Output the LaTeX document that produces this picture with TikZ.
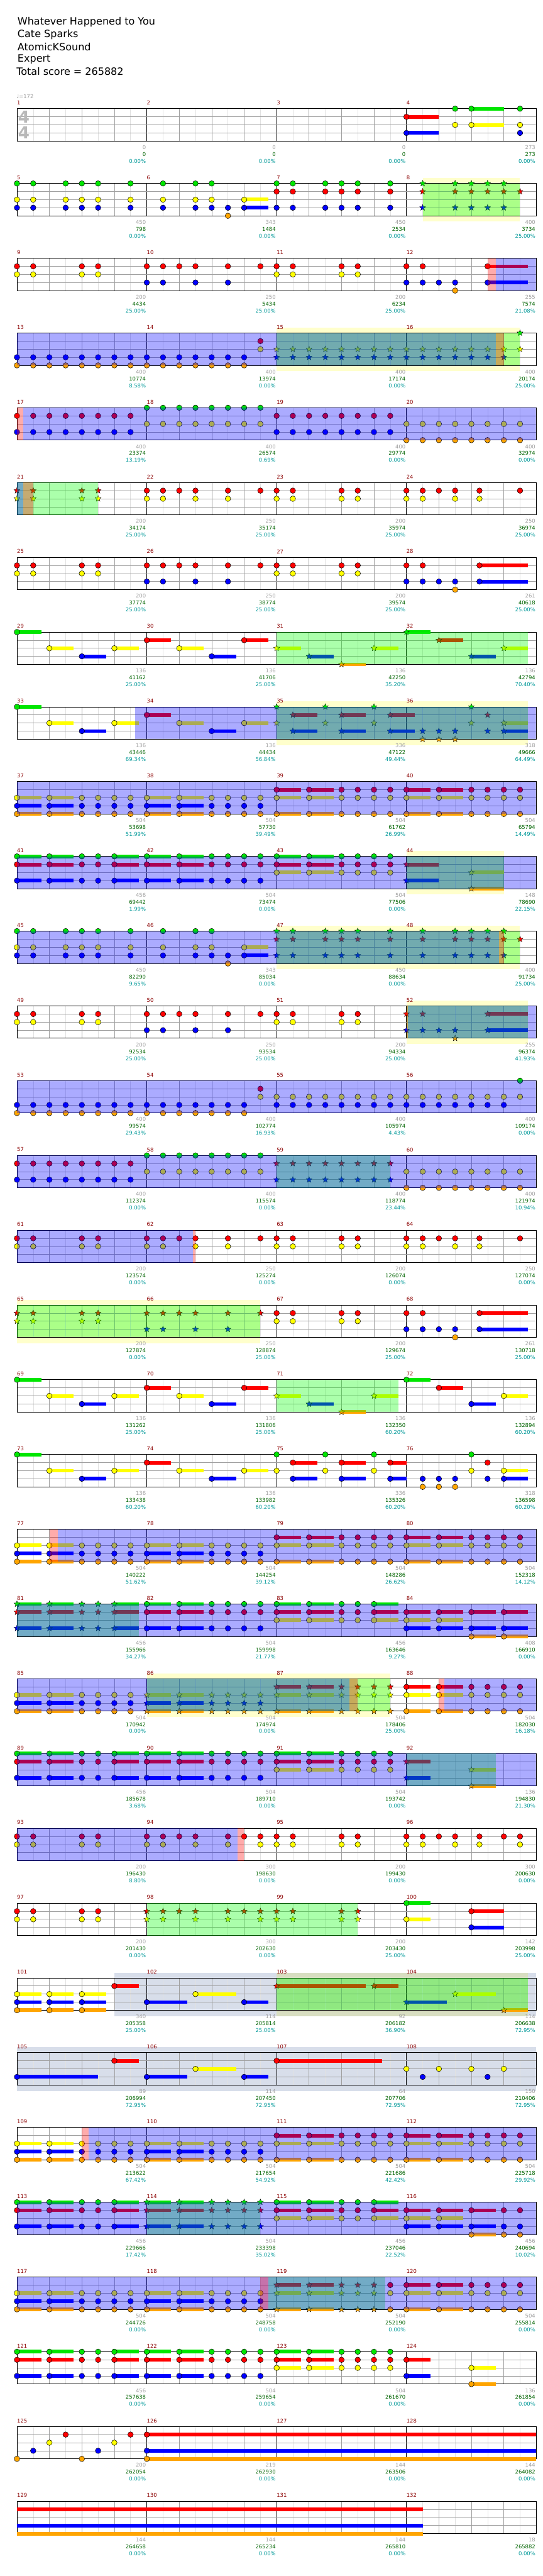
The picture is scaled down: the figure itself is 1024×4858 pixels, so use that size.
\documentclass[tikz,border=0pt]{standalone}
\usepackage{fontspec}
\setmainfont{DejaVu Sans}
\usetikzlibrary{shapes.geometric}
\definecolor{lane0}{RGB}{0,230,0}
\definecolor{lane1}{RGB}{255,0,0}
\definecolor{lane2}{RGB}{255,255,0}
\definecolor{lane3}{RGB}{0,0,255}
\definecolor{lane4}{RGB}{255,165,0}
\definecolor{ovg}{RGB}{0,255,0}
\definecolor{ovb}{RGB}{0,0,255}
\definecolor{ovr}{RGB}{255,0,0}
\definecolor{bandy}{RGB}{255,255,204}
\definecolor{bandg}{RGB}{60,90,150}
\definecolor{mred}{RGB}{139,0,0}
\definecolor{sgray}{RGB}{160,160,160}
\definecolor{sgreen}{RGB}{0,100,0}
\definecolor{steal}{RGB}{0,153,153}
\definecolor{gridq}{RGB}{160,160,160}
\definecolor{gride}{RGB}{225,225,225}
\newcommand\xx[1]{32+#1*30.625}
\newcommand\nc[2]{\foreach \p in {#2}{\draw[fill=lane#1,line width=.6pt] ({\xx{\p}},{#1*15.25}) circle[radius=5.2pt];}}
\newcommand\ns[2]{\foreach \ua/\ub in {#2}{\fill[lane#1] ({\xx{\ua}},{#1*15.25-3.5}) rectangle ({\xx{\ub}},{#1*15.25+3.5});\draw[fill=lane#1,line width=.6pt] ({\xx{\ua}},{#1*15.25}) circle[radius=5.2pt];}}
\newcommand\nt[2]{\foreach \p in {#2}{\node[nstar,fill=lane#1] at ({\xx{\p}},{#1*15.25}) {};}}
\newcommand\nts[2]{\foreach \ua/\ub in {#2}{\fill[lane#1] ({\xx{\ua}},{#1*15.25-3.5}) rectangle ({\xx{\ub}},{#1*15.25+3.5});\node[nstar,fill=lane#1] at ({\xx{\ua}},{#1*15.25}) {};}}
\newcommand\nbar[3]{\fill[lane#1] ({\xx{#2}},{#1*15.25-3.5}) rectangle ({\xx{#3}},{#1*15.25+3.5});}
\newcommand\ov[3]{\fill[#1,fill opacity=.33] ({\xx{#2}},0) rectangle ({\xx{#3}},61);}
\newcommand\yb[2]{\fill[bandy] ({\xx{#1}},-10) rectangle ({\xx{#2}},72);}
\newcommand\gb[2]{\fill[bandg,fill opacity=.2] ({\xx{#1}},-10) rectangle ({\xx{#2}},72);}
\newcommand\sco[4]{\node[stx,text=sgray] at ({32+#1*245-1.5},73) {#2};\node[stx,text=sgreen] at ({32+#1*245-1.5},86) {#3};\node[stx,text=steal] at ({32+#1*245-1.5},99) {#4\%};}
\newcommand\grid[1]{%
  \foreach \i in {1,3,...,31} \draw[gride,line width=.6pt] ({\xx{\i}},0) -- ++(0,61);
  \foreach \i in {2,4,6,10,12,14,18,20,22,26,28,30} \draw[gridq,line width=.7pt] ({\xx{\i}},0) -- ++(0,61);
  \foreach \i in {8,16,24} \draw[black,line width=.7pt] ({\xx{\i}},0) -- ++(0,61);
  \foreach \j in {1,2,3} \draw[gridq,line width=.8pt] (32,{\j*15.25}) -- (1012,{\j*15.25});
  \draw[black,line width=1pt] (32,0) rectangle (1012,61);
  \foreach \k in {0,1,2,3} {\pgfmathtruncatemacro\mn{4*(#1-1)+\k+1}\node[mnum] at ({32+\k*245},-11) {\mn};}}
\newcommand\patA{%
  \ns2{0/1.5,2/3.5,8/9.5,10/11.5,16/17.5,18/19.5,24/25.5,26/27.5}\nc2{4,5,6,7,12,13,14,15,20,21,22,23,28,29,30,31}
  \ns4{0/1.5,2/3.5,8/9.5,10/11.5,16/17.5,18/19.5,24/25.5,26/27.5}\nc4{4,5,6,7,12,13,14,15,20,21,22,23,28,29,30,31}
  \ns3{0/1.5,2/3.5,8/9.5,10/11.5}\nc3{4,5,6,7,12,13,14,15}
  \ns1{16/17.5,18/19.5,24/25.5,26/27.5}\nc1{20,21,22,23,28,29,30,31}}
\begin{document}
\begin{tikzpicture}[x=1pt,y=-1pt,
  nstar/.style={star,star points=5,star point ratio=2.3,minimum size=12pt,inner sep=0pt,draw=black,line width=.4pt},
  stx/.style={anchor=east,inner sep=0pt,font=\fontsize{10}{12}\selectfont},
  mnum/.style={anchor=west,inner sep=0pt,text=mred,font=\fontsize{10}{12}\selectfont},
  ttl/.style={anchor=west,inner sep=0pt,font=\fontsize{19}{22}\selectfont}]
\useasboundingbox (0,0) rectangle (1024,4858);
\fill[white] (0,0) rectangle (1024,4858);
\node[ttl] (t1) at (33,41.7) {Whatever Happened to You};
\node[ttl] (t2) at (33,65) {Cate Sparks};
\node[ttl] (t3) at (33,88.3) {AtomicKSound};
\node[ttl] (t4) at (33,111.7) {Expert};
\node[ttl] (t5) at (31,134.3) {Total score = 265882};
% row 1
\begin{scope}[shift={(0,205)}]
\grid{1}
\node[anchor=west,inner sep=0pt,text=sgray,font=\fontsize{10}{12}\selectfont] (tempo) at (31,-23) {♩=172};
\node[text=gray!55,font=\fontsize{31}{31}\selectfont\bfseries,inner sep=0pt] (ts1) at (45,16) {4};
\node[text=gray!55,font=\fontsize{31}{31}\selectfont\bfseries,inner sep=0pt] (ts2) at (45,45) {4};
\ns0{28/30}\nc0{27,31}\ns1{24/26}\ns2{28/30}\nc2{27,31}\ns3{24/26}\nc3{31}
\sco1{0}{0}{0.00}\sco2{0}{0}{0.00}\sco3{0}{0}{0.00}\sco4{273}{273}{0.00}
\end{scope}
% row 2
\begin{scope}[shift={(0,346)}]
\yb{25}{31}\grid{2}
\nc0{0,1,3,4,5,7,9,11,12,16,17,19,20,21,23}\nt0{25,27,28,29,30}
\nc1{16,17,19,20,21,23}\nt1{25,27,28,29,30,31}
\nc2{0,1,3,4,5,7,9,11,12}\ns2{14/15.5}
\nc3{0,1,3,4,5,7,9,11,12,13,16,17,19,20,21,23}\ns3{14/15.5}\nt3{25,27,28,29,30}
\nc4{13}
\ov{ovg}{25}{31}
\sco1{450}{798}{0.00}\sco2{343}{1484}{0.00}\sco3{450}{2534}{0.00}\sco4{400}{3734}{25.00}
\end{scope}
% row 3
\begin{scope}[shift={(0,487)}]
\grid{3}
\nc1{0,1,4,5,8,9,10,11,13,15,16,17,20,21,24,25}\ns1{29/31.5}
\nc2{0,1,4,5,16,17,20,21}
\nc3{8,9,11,13,24,25,26,27}\ns3{29/31.5}
\nc4{27}
\ov{ovb}{29.5}{32}\ov{ovr}{29}{29.5}
\sco1{200}{4434}{25.00}\sco2{250}{5434}{25.00}\sco3{200}{6234}{25.00}\sco4{255}{7574}{21.08}
\end{scope}
% row 4
\begin{scope}[shift={(0,628)}]
\yb{16}{31}\grid{4}
\nc3{0,...,14}\nc4{0,...,14}\nc1{15}\nc2{15}
\nt2{16,...,31}\nt3{16,...,30}\nt0{31}
\ov{ovg}{16}{31}\ov{ovb}{0}{29.5}\ov{ovr}{29.5}{30}
\sco1{400}{10774}{8.58}\sco2{400}{13974}{0.00}\sco3{400}{17174}{0.00}\sco4{400}{20174}{25.00}
\end{scope}
% row 5
\begin{scope}[shift={(0,769)}]
\grid{5}
\nc1{0,...,7}\nc1{16,...,23}\nc3{0,...,7}\nc3{16,...,23}\nc0{8,...,15}\nc2{8,...,15}\nc2{24,...,31}\nc4{24,...,31}
\ov{ovb}{0.4}{32}\ov{ovr}{0}{0.4}
\sco1{400}{23374}{13.19}\sco2{400}{26574}{0.69}\sco3{400}{29774}{0.00}\sco4{400}{32974}{0.00}
\end{scope}
% row 6
\begin{scope}[shift={(0,910)}]
\grid{6}
\nt1{0,1,4,5}\nt2{0,1,4,5}
\nc1{8,9,10,11,13,15,16,17,20,21,24,25,26,27,28.5,31}
\nc2{8,9,11,13,16,17,20,21,24,25,27,28.5}
\ov{ovg}{0}{5}\ov{ovb}{0}{0.4}\ov{ovr}{0.4}{1}
\sco1{200}{34174}{25.00}\sco2{250}{35174}{25.00}\sco3{200}{35974}{25.00}\sco4{250}{36974}{25.00}
\end{scope}
% row 7
\begin{scope}[shift={(0,1051)}]
\grid{7}
\nc1{0,1,4,5,8,9,10,11,13,15,16,17,20,21,24,25}\ns1{28.5/31.5}
\nc2{0,1,4,5,16,17,20,21}
\nc3{8,9,11,13,24,25,26,27}\ns3{28.5/31.5}
\nc4{27}
\sco1{200}{37774}{25.00}\sco2{250}{38774}{25.00}\sco3{200}{39574}{25.00}\sco4{261}{40618}{25.00}
\end{scope}
% row 8
\begin{scope}[shift={(0,1192)}]
\grid{8}
\ns0{0/1.5}\ns2{2/3.5,6/7.5,10/11.5}\ns1{8/9.5,14/15.5}\ns3{4/5.5,12/13.5}
\nts2{16/17.5,22/23.5,30/31.5}\nts3{18/19.5,28/29.5}\nts4{20/21.5}\nts0{24/25.5}\nts1{26/27.5}
\ov{ovg}{16}{31.5}
\sco1{136}{41162}{25.00}\sco2{136}{41706}{25.00}\sco3{136}{42250}{35.20}\sco4{136}{42794}{70.40}
\end{scope}
% row 9
\begin{scope}[shift={(0,1333)}]
\yb{16}{31.5}\grid{9}
\ns0{0/1.5}\ns2{2/3.5,6/7.5,10/11.5,14/15.5}\ns1{8/9.5}\ns3{4/5.5,12/13.5}
\nt0{16,19,22,28}\nt2{16,19,22,28}\nts2{30/31.5}
\nts1{17/18.5,20/21.5,23/24.5}\nt1{29}
\nts3{17/18.5,20/21.5,23/24.5,30/31.5}\nt3{25,26,27,29}
\nt4{25,26,27}
\ov{ovg}{16}{31.5}\ov{ovb}{7.3}{32}
\sco1{136}{43446}{69.34}\sco2{136}{44434}{56.84}\sco3{336}{47122}{49.44}\sco4{318}{49666}{64.49}
\end{scope}
% row 10
\begin{scope}[shift={(0,1474)}]
\grid{10}
\patA
\ov{ovb}{0}{32}
\sco1{504}{53698}{51.99}\sco2{504}{57730}{39.49}\sco3{504}{61762}{26.99}\sco4{504}{65794}{14.49}
\end{scope}
% row 11
\begin{scope}[shift={(0,1615)}]
\yb{24}{30}\grid{11}
\ns0{0/1.5,2/3.5,6/7.5,8/9.5,10/11.5,16/17.5,18/19.5}\nc0{4,5,12,13,14,15,20,21,22,23}
\ns1{0/1.5,2/3.5,6/7.5,8/9.5,10/11.5,16/17.5,18/19.5}\nc1{4,5,12,13,14,15,20,21,22,23}
\ns3{0/1.5,2/3.5,6/7.5,8/9.5,10/11.5}\nc3{4,5,12,13,14,15}
\ns2{16/17.5,18/19.5}\nc2{20,21,22,23}
\nts1{24/26}\nts3{24/26}\nts2{28/30}\nts4{28/30}
\ov{ovg}{24}{30}\ov{ovb}{0}{32}
\sco1{456}{69442}{1.99}\sco2{504}{73474}{0.00}\sco3{504}{77506}{0.00}\sco4{148}{78690}{22.15}
\end{scope}
% row 12
\begin{scope}[shift={(0,1756)}]
\yb{16}{31}\grid{12}
\nc0{0,1,3,4,5,7,9,11,12}\nt0{16,17,19,20,21,23,25,27,28,29,30}
\nt1{16,17,19,20,21,23,25,27,28,29,30,31}
\nc2{0,1,3,4,5,7,9,11,12}\ns2{14/15.5}
\nc3{0,1,3,4,5,7,9,11,12,13}\ns3{14/15.5}\nt3{16,17,19,20,21,23,25,27,28,29,30}
\nc4{13}
\ov{ovg}{16}{31}\ov{ovb}{0}{29.7}\ov{ovr}{29.7}{30}
\sco1{450}{82290}{9.65}\sco2{343}{85034}{0.00}\sco3{450}{88634}{0.00}\sco4{400}{91734}{25.00}
\end{scope}
% row 13
\begin{scope}[shift={(0,1897)}]
\yb{24}{31.5}\grid{13}
\nc1{0,1,4,5,8,9,10,11,13,15,16,17,20,21}\nt1{24,25}\nts1{29/31.5}
\nc2{0,1,4,5,16,17,20,21}
\nc3{8,9,11,13}\nt3{24,25,26,27}\nts3{29/31.5}
\nt4{27}
\ov{ovg}{24}{31.5}\ov{ovb}{24.1}{32}\ov{ovr}{24}{24.1}
\sco1{200}{92534}{25.00}\sco2{250}{93534}{25.00}\sco3{200}{94334}{25.00}\sco4{255}{96374}{41.93}
\end{scope}
% row 14
\begin{scope}[shift={(0,2038)}]
\grid{14}
\nc3{0,...,14}\nc3{16,...,30}\nc4{0,...,14}\nc1{15}\nc2{15,...,31}\nc0{31}
\ov{ovb}{0}{32}
\sco1{400}{99574}{29.43}\sco2{400}{102774}{16.93}\sco3{400}{105974}{4.43}\sco4{400}{109174}{0.00}
\end{scope}
% row 15
\begin{scope}[shift={(0,2179)}]
\grid{15}
\nc1{0,...,7}\nc3{0,...,7}\nc0{8,...,15}\nc2{8,...,15}\nc2{24,...,31}\nt1{16,...,23}\nt3{16,...,23}\nc4{24,...,31}
\ov{ovg}{16}{23}\ov{ovb}{0}{32}
\sco1{400}{112374}{0.00}\sco2{400}{115574}{0.00}\sco3{400}{118774}{23.44}\sco4{400}{121974}{10.94}
\end{scope}
% row 16
\begin{scope}[shift={(0,2320)}]
\grid{16}
\nc1{0,1,4,5,8,9,10,11,13,15,16,17,20,21,24,25,26,27,28.5,31}
\nc2{0,1,4,5,8,9,11,13,16,17,20,21,24,25,27,28.5}
\ov{ovb}{0}{10.83}\ov{ovr}{10.83}{11}
\sco1{200}{123574}{0.00}\sco2{250}{125274}{0.00}\sco3{200}{126074}{0.00}\sco4{250}{127074}{0.00}
\end{scope}
% row 17
\begin{scope}[shift={(0,2461)}]
\yb{0}{15}\grid{17}
\nt1{0,1,4,5,8,9,10,11,13,15}\nt2{0,1,4,5}\nt3{8,9,11,13}
\nc1{16,17,20,21,24,25}\ns1{28.5/31.5}
\nc2{16,17,20,21}
\nc3{24,25,26,27}\ns3{28.5/31.5}
\nc4{27}
\ov{ovg}{0}{15}
\sco1{200}{127874}{0.00}\sco2{250}{128874}{25.00}\sco3{200}{129674}{25.00}\sco4{261}{130718}{25.00}
\end{scope}
% row 18
\begin{scope}[shift={(0,2602)}]
\grid{18}
\ns0{0/1.5,24/25.5}\ns2{2/3.5,6/7.5,10/11.5,30/31.5}\ns3{4/5.5,12/13.5,28/29.5}\ns1{8/9.5,14/15.5,26/27.5}
\nts2{16/17.5,22/23.5}\nts3{18/19.5}\nts4{20/21.5}
\ov{ovg}{16}{23.5}
\sco1{136}{131262}{25.00}\sco2{136}{131806}{25.00}\sco3{136}{132350}{60.20}\sco4{136}{132894}{60.20}
\end{scope}
% row 19
\begin{scope}[shift={(0,2743)}]
\grid{19}
\ns0{0/1.5}\ns2{2/3.5,6/7.5,10/11.5,14/15.5}\ns3{4/5.5,12/13.5}\ns1{8/9.5}
\nc0{16,19,22,28}\nc2{16,19,22,28}\ns1{17/18.5,20/21.5,23/24}\ns3{17/18.5,20/21.5,23/24}
\nc3{25,26,27,29}\nc4{25,26,27}\nc1{29}\ns2{30/31.5}\ns3{30/31.5}
\sco1{136}{133438}{60.20}\sco2{136}{133982}{60.20}\sco3{336}{135326}{60.20}\sco4{318}{136598}{60.20}
\end{scope}
% row 20
\begin{scope}[shift={(0,2884)}]
\grid{20}
\patA
\ov{ovb}{2.5}{32}\ov{ovr}{2}{2.5}
\sco1{504}{140222}{51.62}\sco2{504}{144254}{39.12}\sco3{504}{148286}{26.62}\sco4{504}{152318}{14.12}
\end{scope}
% row 21
\begin{scope}[shift={(0,3025)}]
\grid{21}
\nts0{0/1.5,2/3.5,6/7.5}\nt0{4,5}\nts1{0/1.5,2/3.5,6/7.5}\nt1{4,5}\nts3{0/1.5,2/3.5,6/7.5}\nt3{4,5}
\ns0{8/9.5,10/11.5,16/17.5,18/19.5,22/23.5}\nc0{12,13,14,15,20,21}
\ns1{8/9.5,10/11.5,16/17.5,18/19.5,22/23.5,24/25.5,26/27.5,28/29.5,30/31.5}\nc1{12,13,14,15,20,21}
\ns3{8/9.5,10/11.5,24/25.5,26/27.5,28/29.5,30/31.5}\nc3{12,13,14,15}
\ns2{16/17.5,18/19.5,22/23.5,24/25.5,26/27.5}\nc2{20,21}
\ns4{28/29.5,30/31.5}
\ov{ovg}{0}{7.5}\ov{ovb}{0}{32}
\sco1{456}{155966}{34.27}\sco2{504}{159998}{21.77}\sco3{456}{163646}{9.27}\sco4{408}{166910}{0.00}
\end{scope}
% row 22
\begin{scope}[shift={(0,3166)}]
\yb{8}{23}\grid{22}
\ns2{0/1.5,2/3.5}\nc2{4,5,6,7}\ns3{0/1.5,2/3.5}\nc3{4,5,6,7}\ns4{0/1.5,2/3.5}\nc4{4,5,6,7}
\nts2{8/9.5,10/11.5}\nt2{12,...,15}\nts3{8/9.5,10/11.5}\nt3{12,...,15}\nts4{8/9.5,10/11.5}\nt4{12,...,15}
\nts1{16/17.5,18/19.5}\nt1{20,...,23}\nts2{16/17.5,18/19.5}\nt2{20,...,23}\nts4{16/17.5,18/19.5}\nt4{20,...,23}
\ns1{24/25.5,26/27.5}\nc1{28,...,31}\ns2{24/25.5,26/27.5}\nc2{28,...,31}\ns4{24/25.5,26/27.5}\nc4{28,...,31}
\ov{ovg}{8}{23}\ov{ovb}{0}{20.5}\ov{ovb}{26.35}{32}\ov{ovr}{20.5}{21}\ov{ovr}{26}{26.35}
\sco1{504}{170942}{0.00}\sco2{504}{174974}{0.00}\sco3{504}{178406}{25.00}\sco4{504}{182030}{16.18}
\end{scope}
% row 23
\begin{scope}[shift={(0,3307)}]
\grid{23}
\ns0{0/1.5,2/3.5,6/7.5,8/9.5,10/11.5,16/17.5,18/19.5}\nc0{4,5,12,13,14,15,20,21,22,23}
\ns1{0/1.5,2/3.5,6/7.5,8/9.5,10/11.5,16/17.5,18/19.5}\nc1{4,5,12,13,14,15,20,21,22,23}
\ns3{0/1.5,2/3.5,6/7.5,8/9.5,10/11.5}\nc3{4,5,12,13,14,15}
\ns2{16/17.5,18/19.5}\nc2{20,21,22,23}
\nts1{24/25.5}\nts3{24/25.5}\nts2{28/29.5}\nts4{28/29.5}
\ov{ovg}{24}{29.5}\ov{ovb}{0}{32}
\sco1{456}{185678}{3.68}\sco2{504}{189710}{0.00}\sco3{504}{193742}{0.00}\sco4{136}{194830}{21.30}
\end{scope}
% row 24
\begin{scope}[shift={(0,3448)}]
\grid{24}
\nc1{0,1,4,5,8,9,10,11,13,14,15,16,17,20,21,24,25,26,27,28.5,30,31}
\nc2{0,1,4,5,8,9,11,13,15,16,17,20,21,24,25,27,28.5,31}
\ov{ovb}{0}{13.6}\ov{ovr}{13.6}{14}
\sco1{200}{196430}{8.80}\sco2{300}{198630}{0.00}\sco3{200}{199430}{0.00}\sco4{300}{200630}{0.00}
\end{scope}
% row 25
\begin{scope}[shift={(0,3589)}]
\grid{25}
\nc1{0,1,4,5}\nc2{0,1,4,5}
\nt1{8,9,10,11,13,14,15,16,17,20,21}\nt2{8,9,11,13,15,16,17,20,21}
\ns0{24/25.5}\ns2{24/25.5}\ns1{28/30}\ns3{28/30}
\ov{ovg}{8}{21}
\sco1{200}{201430}{0.00}\sco2{300}{202630}{0.00}\sco3{200}{203430}{25.00}\sco4{142}{203998}{25.00}
\end{scope}
% row 26
\begin{scope}[shift={(0,3730)}]
\yb{16}{31.5}\gb{6}{32}\grid{26}
\ns2{0/1.5,2/3.5,4/5.5}\ns3{0/1.5,2/3.5,4/5.5}\ns4{0/1.5,2/3.5,4/5.5}
\ns1{6/7.5}\ns3{8/10.5,14/15.5}\ns2{11/13.5}
\nts1{16/21.5,22/23.5}\nts3{24/26.5}\nts2{27/29.5}\nts4{30/31.5}
\ov{ovg}{16}{31.5}
\sco1{340}{205358}{25.00}\sco2{114}{205814}{25.00}\sco3{92}{206182}{36.90}\sco4{114}{206638}{72.95}
\end{scope}
% row 27
\begin{scope}[shift={(0,3871)}]
\gb{0}{32}\grid{27}
\ns3{0/5,8/10.5,14/15.5}\ns1{6/7.5,16/22.5}\ns2{11/13.5}\nc2{24,26,28,30}\nc3{25,29}
\sco1{89}{206994}{72.95}\sco2{114}{207450}{72.95}\sco3{64}{207706}{72.95}\sco4{150}{210406}{72.95}
\end{scope}
% row 28
\begin{scope}[shift={(0,4012)}]
\grid{28}
\patA
\ov{ovb}{4.43}{32}\ov{ovr}{4}{4.43}
\sco1{504}{213622}{67.42}\sco2{504}{217654}{54.92}\sco3{504}{221686}{42.42}\sco4{504}{225718}{29.92}
\end{scope}
% row 29
\begin{scope}[shift={(0,4153)}]
\grid{29}
\ns0{0/1.5,2/3.5,6/7.5}\nc0{4,5}\nts0{8/9.5,10/11.5}\nt0{12,...,15}\ns0{16/17.5,18/19.5,22/23.5}\nc0{20,21}
\ns1{0/1.5,2/3.5,6/7.5}\nc1{4,5}\nts1{8/9.5,10/11.5}\nt1{12,...,15}\ns1{16/17.5,18/19.5,22/23.5,24/25.5,26/27.5,28/29.5}\nc1{20,21,30,31}
\ns3{0/1.5,2/3.5,6/7.5}\nc3{4,5}\nts3{8/9.5,10/11.5}\nt3{12,...,15}\ns3{24/25.5,26/27.5,28/29.5}\nc3{30,31}
\ns2{16/17.5,18/19.5,22/23.5,24/25.5,26/27.5}\nc2{20,21}
\ns4{28/29.5}\nc4{30,31}
\ov{ovg}{8}{15}\ov{ovb}{0}{32}
\sco1{456}{229666}{17.42}\sco2{504}{233398}{35.02}\sco3{456}{237046}{22.52}\sco4{456}{240694}{10.02}
\end{scope}
% row 30
\begin{scope}[shift={(0,4294)}]
\grid{30}
\ns2{0/1.5,2/3.5}\nc2{4,5,6,7}\ns3{0/1.5,2/3.5}\nc3{4,5,6,7}\ns4{0/1.5,2/3.5}\nc4{4,5,6,7}
\ns2{8/9.5,10/11.5}\nc2{12,...,15}\ns3{8/9.5,10/11.5}\nc3{12,...,15}\ns4{8/9.5,10/11.5}\nc4{12,...,15}
\nts1{16/17.5,18/19.5}\nt1{20,...,22}\nts2{16/17.5,18/19.5}\nt2{20,...,22}\nts4{16/17.5,18/19.5}\nt4{20,...,22}
\nc1{23}\nc2{23}\nc4{23}
\ns1{24/25.5,26/27.5}\nc1{28,...,31}\ns2{24/25.5,26/27.5}\nc2{28,...,31}\ns4{24/25.5,26/27.5}\nc4{28,...,31}
\ov{ovg}{15.5}{22.7}\ov{ovb}{0}{32}\ov{ovr}{15}{15.5}
\sco1{504}{244726}{0.00}\sco2{504}{248758}{0.00}\sco3{504}{252190}{0.00}\sco4{504}{255814}{0.00}
\end{scope}
% row 31
\begin{scope}[shift={(0,4435)}]
\grid{31}
\ns0{0/1.5,2/3.5,6/7.5,8/9.5,10/11.5,16/17.5,18/19.5}\nc0{4,5,12,13,14,15,20,21,22,23}
\ns1{0/1.5,2/3.5,6/7.5,8/9.5,10/11.5,16/17.5,18/19.5}\nc1{4,5,12,13,14,15,20,21,22,23}
\ns3{0/1.5,2/3.5,6/7.5,8/9.5,10/11.5}\nc3{4,5,12,13,14,15}
\ns2{16/17.5,18/19.5}\nc2{20,21,22,23}
\ns1{24/25.5}\ns3{24/25.5}\ns2{28/29.5}\ns4{28/29.5}
\sco1{456}{257638}{0.00}\sco2{504}{259654}{0.00}\sco3{504}{261670}{0.00}\sco4{136}{261854}{0.00}
\end{scope}
% row 32
\begin{scope}[shift={(0,4576)}]
\grid{32}
\nc1{3,7}\nc2{2,6}\nc3{1,5}\nc4{0,4}\ns1{8/32}\ns3{8/32}\ns4{8/32}
\sco1{200}{262054}{0.00}\sco2{219}{262930}{0.00}\sco3{144}{263506}{0.00}\sco4{144}{264082}{0.00}
\end{scope}
% row 33
\begin{scope}[shift={(0,4717)}]
\grid{33}
\nbar1{0}{25}\nbar3{0}{25}\nbar4{0}{25}
\sco1{144}{264658}{0.00}\sco2{144}{265234}{0.00}\sco3{144}{265810}{0.00}\sco4{18}{265882}{0.00}
\end{scope}
\end{tikzpicture}
\end{document}
